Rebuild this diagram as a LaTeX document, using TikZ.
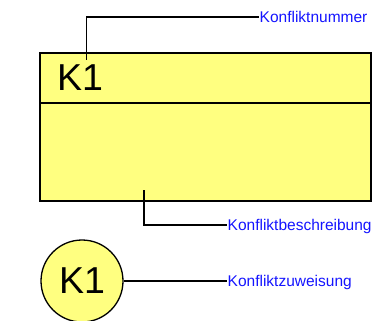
\documentclass[tikz,border=0pt]{standalone}
\usepackage{fontspec}
\setmainfont{Liberation Sans}
\usepackage{tikz}
\definecolor{kfill}{RGB}{255,255,128}
\definecolor{kblue}{RGB}{20,20,255}
\begin{document}
\begin{tikzpicture}[x=1pt, y=-1pt,
  lbl/.style={anchor=west, inner sep=0.5pt, text depth=0pt, text=kblue, font=\fontsize{15.5}{17}\selectfont},
  big/.style={font=\fontsize{37.5}{40}\selectfont},
  conn/.style={line width=1.5pt}]
\useasboundingbox (0,0) rectangle (380,321);
\draw[fill=kfill, line width=2pt] (39.5,53.5) rectangle (371,201);
\draw[line width=2pt] (39.5,103) -- (371,103);
\node[big, anchor=base west, inner sep=0] (numK) at (57,90) {K1};
\node[big, circle, draw, fill=kfill, line width=1.3pt, minimum size=82pt, inner sep=0] (zuw) at (82,281) {K1};
% Beschriftungen
\node[lbl] (lNum) at (259,17) {Konfliktnummer};
\node[lbl] (lBes) at (227,225) {Konfliktbeschreibung};
\node[lbl] (lZuw) at (227,281) {Konfliktzuweisung};
\coordinate (cNum) at (86.5,60);
\coordinate (cBes) at (144,190);
\draw[conn] (cNum) |- (lNum.west);
\draw[conn] (cBes) |- (lBes.west);
\draw[conn] (zuw.east) -- (lZuw.west);
\end{tikzpicture}
\end{document}
